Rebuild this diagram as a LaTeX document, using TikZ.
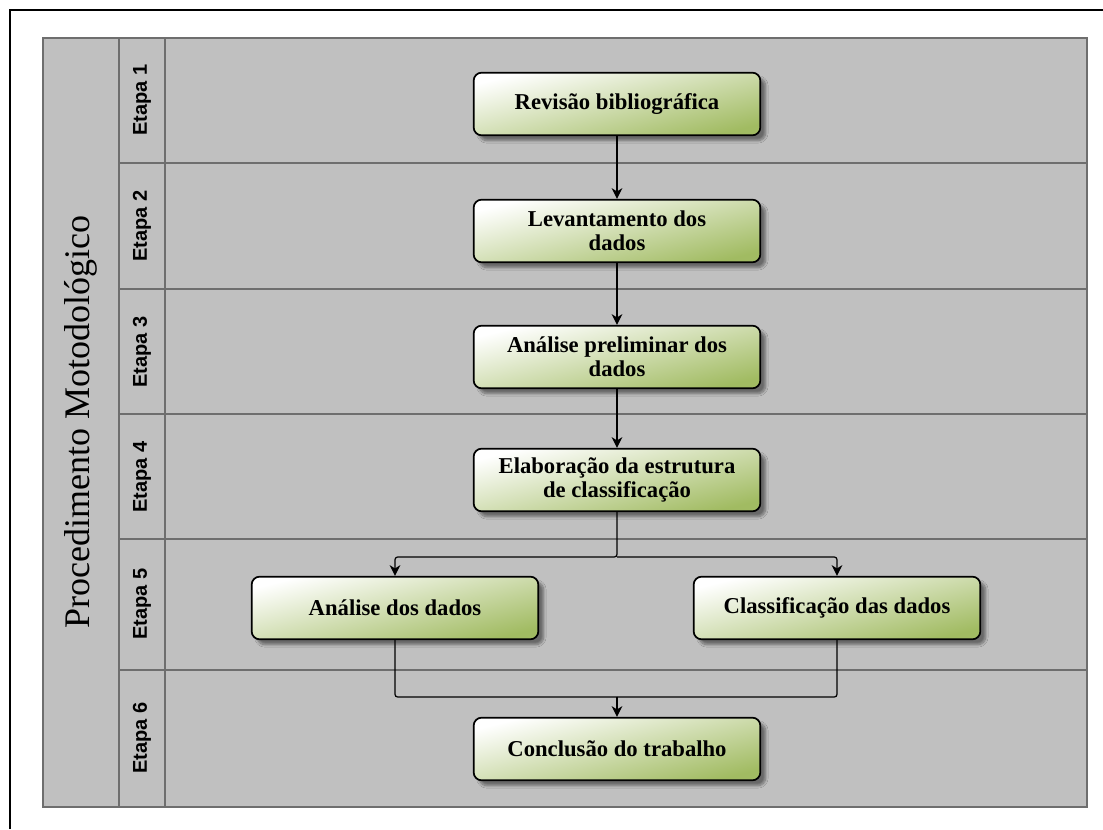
\documentclass[tikz,border=0pt]{standalone}
\usepackage{fontspec}
\setmainfont{Liberation Serif}
\setsansfont{Liberation Sans}
\usepackage{tikz}
\usetikzlibrary{arrows.meta,shadows.blur}

\definecolor{laneGray}{HTML}{C0C0C0}
\definecolor{laneLine}{HTML}{6E6E6E}
\definecolor{boxGreen}{HTML}{97B451}

\tikzset{
  etapabox/.style={draw=black,line width=1.3pt,rounded corners=6pt,
    minimum width=215pt,minimum height=47pt,align=center,
    top color=white,middle color=boxGreen!25!white,bottom color=boxGreen!90!white,shading angle=14,
    blur shadow={shadow xshift=4pt,shadow yshift=-4pt,shadow opacity=45,shadow blur steps=8},
    font=\bfseries\fontsize{17}{18}\selectfont},
  etapalabel/.style={rotate=90,font=\sffamily\bfseries\fontsize{15}{16}\selectfont},
  flow/.style={line width=0.9pt,-{Stealth[length=8pt,width=8pt,inset=2.5pt]},rounded corners=2pt}
}

\begin{document}
\begin{tikzpicture}[x=0.75pt,y=-0.75pt]
\useasboundingbox (0,0) rectangle (1103,829);

% Outer frame
\draw[line width=2.2pt] (10,829) -- (10,10) -- (1104,10);

% Lanes
\fill[laneGray] (43,38) rectangle (1087,807);
\draw[laneLine,line width=0.9pt] (43,38) rectangle (1087,807);
\draw[laneLine,line width=0.9pt] (119,38) -- (119,807);
\draw[laneLine,line width=0.9pt] (165,38) -- (165,807);
\foreach \y in {163,289,414,539,670}
  \draw[laneLine,line width=0.9pt] (119,\y) -- (1087,\y);

% Lane titles
\node[rotate=90,font=\fontsize{27}{28}\selectfont] (title) at (81,422) {Procedimento Motodológico};
\node[etapalabel] (e1) at (142,100) {Etapa 1};
\node[etapalabel] (e2) at (142,226) {Etapa 2};
\node[etapalabel] (e3) at (142,352) {Etapa 3};
\node[etapalabel] (e4) at (142,477) {Etapa 4};
\node[etapalabel] (e5) at (142,604) {Etapa 5};
\node[etapalabel] (e6) at (142,738) {Etapa 6};

% Steps
\node[etapabox] (rev) at (617,104) {Revisão bibliográfica};
\node[etapabox] (lev) at (617,231) {Levantamento dos\\dados};
\node[etapabox] (pre) at (617,357) {Análise preliminar dos\\dados};
\node[etapabox] (ela) at (617,480) {Elaboração da estrutura\\de classificação};
\node[etapabox] (ana) at (395,608) {Análise dos dados};
\node[etapabox] (cla) at (837,608) {Classificação das dados};
\node[etapabox] (con) at (617,749) {Conclusão do trabalho};

% Connectors
\coordinate (split) at (617,557);
\coordinate (join) at (617,697);
\draw[flow] (rev) -- (lev);
\draw[flow] (lev) -- (pre);
\draw[flow] (pre) -- (ela);
\draw[flow] (ela.south) -- (split) -| (ana.north);
\draw[flow] (split) -| (cla.north);
\draw[line width=0.9pt,rounded corners=2pt] (ana.south) |- (join);
\draw[line width=0.9pt,rounded corners=2pt] (cla.south) |- (join);
\draw[flow] (join) -- (con);

\end{tikzpicture}
\end{document}
